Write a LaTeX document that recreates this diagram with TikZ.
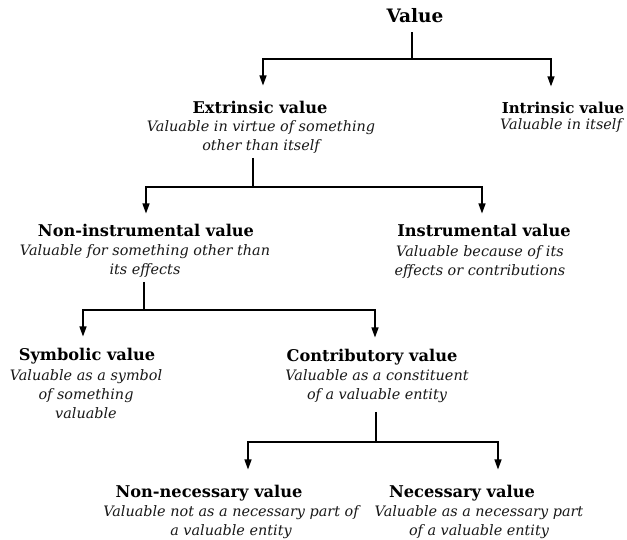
\documentclass[tikz,border=0pt]{standalone}
\usepackage{fontspec}
\setmainfont{DejaVu Serif}
\usetikzlibrary{arrows.meta,calc}
\newcommand{\ttlfont}{\fontsize{16.2}{19}\selectfont\bfseries}
\newcommand{\dscfont}{\fontsize{14.4}{19}\selectfont\itshape}
\newcommand{\dlines}[1]{{\dscfont\begin{tabular}[t]{@{}c@{}}#1\end{tabular}}}
\tikzset{
  ttl/.style={inner sep=0pt, anchor=base, font=\ttlfont, text=black},
  dsc/.style={inner sep=0pt, anchor=base, text=black!90},
  conn/.style={line width=1.3pt, draw=black},
  arr/.style={conn, -{Triangle[length=10pt,width=7pt]}},
}
\begin{document}
\begin{tikzpicture}[x=1pt,y=-1pt]
\fill[white] (0,0) rectangle (627,540);
\useasboundingbox (0,0) rectangle (627,540);
% titles
\node[ttl, font=\fontsize{18.5}{21}\selectfont\bfseries] (value) at (415,23) {Value};
\node[ttl] (ext) at (260,114) {Extrinsic value};
\node[ttl, font=\fontsize{15}{18}\selectfont\bfseries] (int) at (563,114) {Intrinsic value};
\node[ttl] (nonins) at (146,237) {Non-instrumental value};
\node[ttl] (ins) at (484,237) {Instrumental value};
\node[ttl] (sym) at (87,360) {Symbolic value};
\node[ttl] (con) at (372,361) {Contributory value};
\node[ttl] (nonnec) at (209,497) {Non-necessary value};
\node[ttl] (nec) at (462,497) {Necessary value};
% descriptions
\node[dsc] (extd) at (261,132) {\dlines{Valuable in virtue of something\\other than itself}};
\node[dsc] (intd) at (561,130) {\dlines{Valuable in itself}};
\node[dsc] (noninsd) at (145,256) {\dlines{Valuable for something other than\\its effects}};
\node[dsc] (insd) at (480,257) {\dlines{Valuable because of its\\effects or contributions}};
\node[dsc] (symd) at (86,381) {\dlines{Valuable as a symbol\\of something\\valuable}};
\node[dsc] (cond) at (377,381) {\dlines{Valuable as a constituent\\of a valuable entity}};
\node[dsc] (nonnecd) at (231,516) {\dlines{Valuable not as a necessary part of\\a valuable entity}};
\node[dsc] (necd) at (479,516) {\dlines{Valuable as a necessary part\\of a valuable entity}};
% connectors
\coordinate (b1) at (412,59);
\draw[conn] ($(value.south -| b1)+(0,9)$) -- (b1);
\draw[arr] (b1) -| ($(ext.north)+(3,-16)$);
\draw[arr] (b1) -| ($(int.north)+(-12,-16)$);
\coordinate (b2) at (253,187);
\draw[conn] ($(extd.south -| b2)+(0,1)$) -- (b2);
\draw[arr] (b2) -| ($(nonins.north)+(0,-11)$);
\draw[arr] (b2) -| ($(ins.north)+(-2,-11)$);
\coordinate (b3) at (144,310);
\draw[conn] ($(noninsd.south -| b3)+(0,1)$) -- (b3);
\draw[arr] (b3) -| ($(sym.north)+(-4,-11)$);
\draw[arr] (b3) -| ($(con.north)+(3,-11)$);
\coordinate (b4) at (376,442);
\draw[conn] ($(cond.south -| b4)+(0,6)$) -- (b4);
\draw[arr] (b4) -| ($(nonnec.north)+(39,-15)$);
\draw[arr] (b4) -| ($(nec.north)+(36,-15)$);
\end{tikzpicture}
\end{document}
